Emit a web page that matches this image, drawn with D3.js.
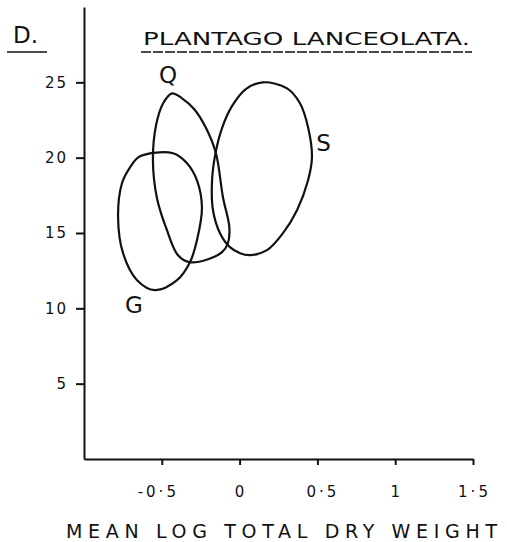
<!DOCTYPE html>
<html><head><meta charset="utf-8">
<script src="https://cdn.jsdelivr.net/npm/d3@7"></script>
<style>
body{margin:0;background:#fff;}
svg text{font-family:"DejaVu Sans",sans-serif;fill:#111;}
</style></head>
<body><svg id="c" width="507" height="542"></svg>
<script>
// Data: outlines of the three ellipses in data units
const groupLabels = ["G", "Q", "S"];
const outlineG = [[-0.428,20.29],[-0.338,19.63],[-0.274,18.50],[-0.242,16.71],[-0.274,14.52],[-0.319,13.06],[-0.402,11.87],[-0.544,11.21],[-0.659,11.87],[-0.749,13.66],[-0.781,16.05],[-0.756,18.30],[-0.704,19.36],[-0.640,20.09]];
const outlineQ = [[-0.434,24.27],[-0.372,23.95],[-0.290,23.20],[-0.215,21.95],[-0.152,20.29],[-0.107,17.37],[-0.066,15.38],[-0.075,14.32],[-0.113,13.73],[-0.203,13.26],[-0.319,13.06],[-0.396,13.53],[-0.467,15.19],[-0.531,17.31],[-0.557,19.83],[-0.537,22.15],[-0.492,23.60]];
const outlineS = [[0.150,25.0],[0.305,24.60],[0.388,23.61],[0.440,22.02],[0.465,20.03],[0.440,18.50],[0.369,16.51],[0.279,14.99],[0.176,13.86],[0.067,13.53],[0.003,13.66],[-0.062,14.06],[-0.126,14.99],[-0.171,16.51],[-0.177,18.50],[-0.155,20.29],[-0.115,21.90],[-0.050,23.40],[0.040,24.55]];
// label anchor positions in data units
const labelPos = [[-0.68,10.2],[-0.46,25.5],[0.54,21.0]];
const xTicks = [-0.5, 0, 0.5, 1, 1.5];
const xTickLabels = ["-0·5", "0", "0·5", "1", "1·5"];
const yTicks = [5, 10, 15, 20, 25];
const yTickLabels = ["5", "10", "15", "20", "25"];
const title = "PLANTAGO LANCEOLATA.";
const panel = "D.";
const xTitle = "MEAN LOG TOTAL DRY WEIGHT";

const svg = d3.select("#c");
const x = d3.scaleLinear().domain([-1, 1.5]).range([84, 473]);
const y = d3.scaleLinear().domain([0, 30]).range([459, 7]);

// Axes
const gx = svg.append("g").attr("transform", "translate(0,459)")
  .call(d3.axisBottom(x).tickValues(xTicks).tickFormat((d,i)=>xTickLabels[i]).tickSize(6).tickSizeOuter(0).tickPadding(21));
const gy = svg.append("g").attr("transform", "translate(84,0)")
  .call(d3.axisLeft(y).tickValues(yTicks).tickFormat((d,i)=>yTickLabels[i]).tickSize(8).tickSizeOuter(0).tickPadding(8));
[gx, gy].forEach(g => {
  g.selectAll("path,line").attr("stroke", "#111").attr("stroke-width", 2);
  g.selectAll("text").attr("font-size", 15).style("font-family", "DejaVu Sans, sans-serif").attr("fill", "#111");
});
gx.selectAll(".tick text").attr("letter-spacing", 3).attr("dx", (d) => d === -0.5 ? -4 : (d === 0.5 ? 5 : 1));
gy.selectAll(".tick text").attr("letter-spacing", 2);

// Ellipses
const line = d3.line().x(d => x(d[0])).y(d => y(d[1])).curve(d3.curveCatmullRomClosed.alpha(0.5));
const outlines = [outlineG, outlineQ, outlineS];
svg.append("g").selectAll("path").data(outlines).join("path")
  .attr("d", line).attr("fill", "none").attr("stroke", "#111").attr("stroke-width", 2.2);

// Group labels
svg.append("g").selectAll("text").data(groupLabels).join("text")
  .attr("x", (d,i) => x(labelPos[i][0])).attr("y", (d,i) => y(labelPos[i][1]))
  .attr("text-anchor", "middle").attr("dominant-baseline", "central")
  .attr("font-size", 23).text(d => d);

// Title
svg.append("text").attr("x", 143).attr("y", 45).attr("font-size", 17)
  .attr("textLength", 327).attr("lengthAdjust", "spacingAndGlyphs").text(title);
svg.append("line").attr("x1", 141).attr("x2", 472).attr("y1", 52).attr("y2", 52)
  .attr("stroke", "#111").attr("stroke-width", 1.5).attr("stroke-dasharray", "10 2");
svg.append("text").attr("x", 13).attr("y", 43).attr("font-size", 23).text(panel);
svg.append("line").attr("x1", 7).attr("x2", 47).attr("y1", 52).attr("y2", 52)
  .attr("stroke", "#111").attr("stroke-width", 1.5);

// X axis title
svg.append("text").attr("x", 66).attr("y", 538).attr("font-size", 19)
  .attr("textLength", 431).attr("lengthAdjust", "spacing").text(xTitle);
</script></body></html>
